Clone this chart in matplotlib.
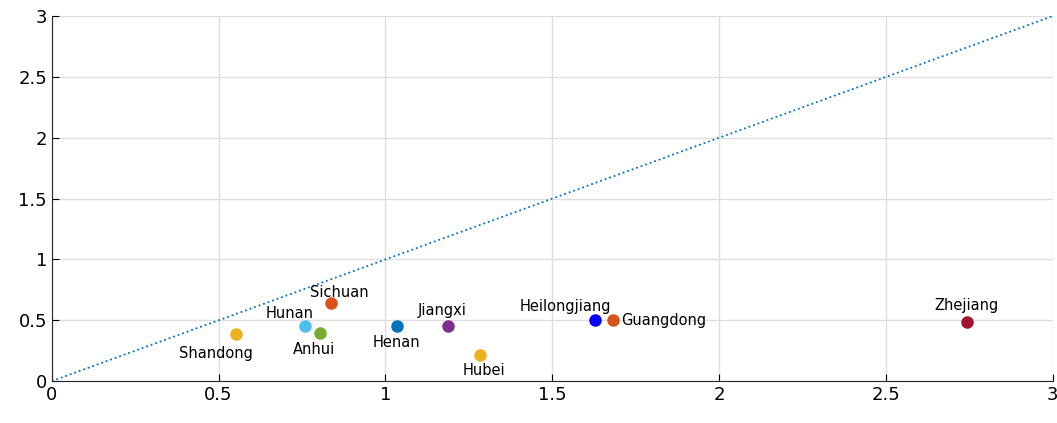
import matplotlib.pyplot as plt

provinces = ['Shandong', 'Hunan', 'Anhui', 'Sichuan', 'Henan', 'Jiangxi',
             'Hubei', 'Heilongjiang', 'Guangdong', 'Zhejiang']
x_vals = [0.551, 0.758, 0.803, 0.836, 1.034, 1.187, 1.283, 1.627, 1.681, 2.742]
y_vals = [0.386, 0.452, 0.394, 0.641, 0.452, 0.452, 0.214, 0.501, 0.501, 0.485]
colors = ['#EDB120', '#4DBEEE', '#77AC30', '#D95319', '#0072BD', '#7E2F8E',
          '#EDB120', '#0000FF', '#D95319', '#A2142F']
# label offset in points and alignment
offsets = {
    'Shandong': ((-14, -14), 'center'),
    'Hunan': ((-11, 9), 'center'),
    'Anhui': ((-4, -12), 'center'),
    'Sichuan': ((6, 8), 'center'),
    'Henan': ((0, -12), 'center'),
    'Jiangxi': ((-4, 11), 'center'),
    'Hubei': ((3, -11), 'center'),
    'Heilongjiang': ((-21, 10), 'center'),
    'Guangdong': ((6, 0), 'left'),
    'Zhejiang': ((0, 12), 'center'),
}

fig = plt.figure(figsize=(10.57, 4.23), dpi=100)
ax = fig.add_axes([0.049, 0.099, 0.947, 0.863])

ax.plot([0, 3], [0, 3], ':', color='#0072BD', lw=1.3)
for px, py, c, name in zip(x_vals, y_vals, colors, provinces):
    ax.plot(px, py, 'o', color=c, ms=8)
    (dx, dy), ha = offsets[name]
    ax.annotate(name, (px, py), xytext=(dx, dy), textcoords='offset points',
                ha=ha, va='center', fontsize=10.5)

ax.set_xlim(0, 3)
ax.set_ylim(0, 3)
ax.set_xticks([0, 0.5, 1, 1.5, 2, 2.5, 3])
ax.set_yticks([0, 0.5, 1, 1.5, 2, 2.5, 3])
ax.set_xticklabels(['0', '0.5', '1', '1.5', '2', '2.5', '3'])
ax.set_yticklabels(['0', '0.5', '1', '1.5', '2', '2.5', '3'])
ax.grid(True, color='#dfdfdf', lw=1)
ax.set_axisbelow(True)
ax.tick_params(direction='in', labelsize=13, length=5, top=False, right=False)
ax.spines['top'].set_visible(False)
ax.spines['right'].set_visible(False)
for s in ax.spines.values():
    s.set_color('#262626')
    s.set_linewidth(0.8)

fig.savefig('out.png', dpi=100)
